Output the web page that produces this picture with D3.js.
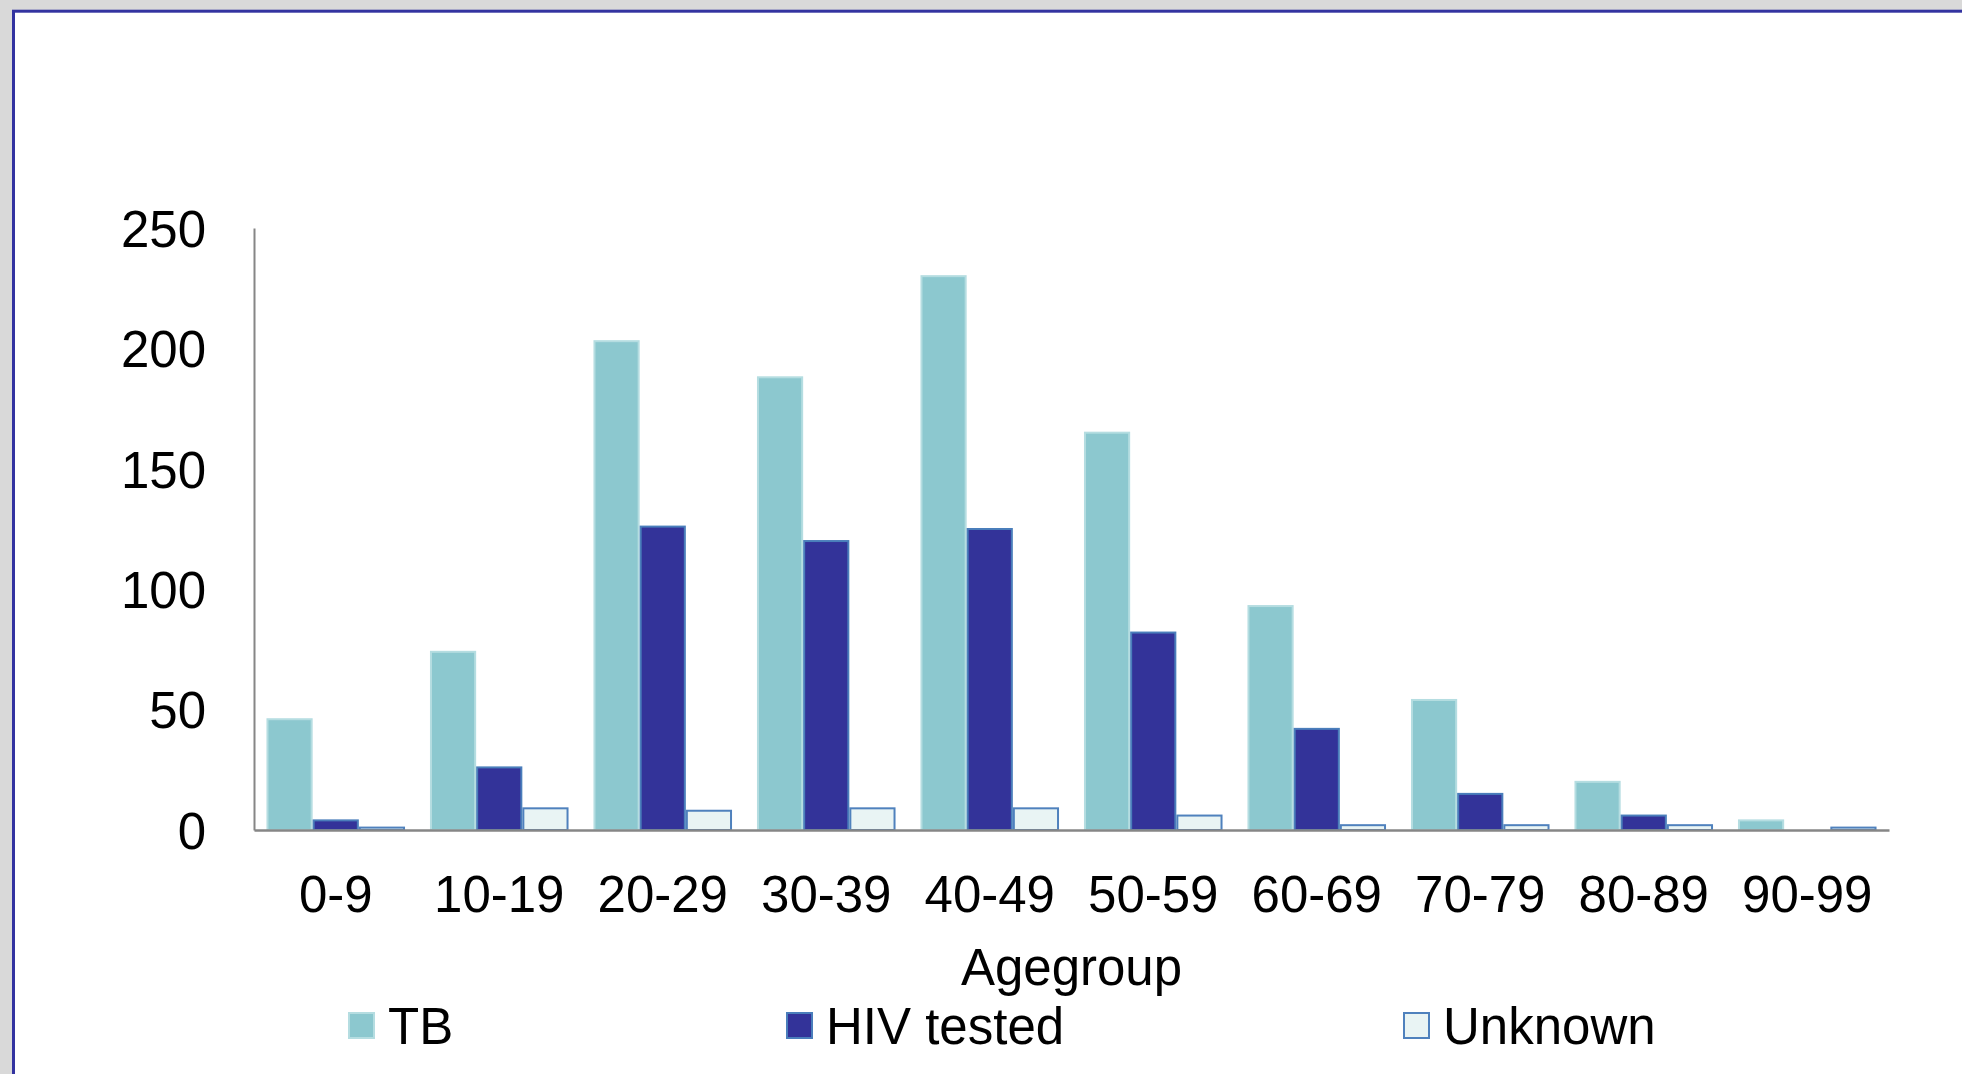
<!DOCTYPE html>
<html>
<head>
<meta charset="utf-8">
<script src="https://cdn.jsdelivr.net/npm/d3@7"></script>
<style>
  body { margin: 0; background: #d9d9d9; }
  svg { display: block; font-family: "Liberation Sans", Arial, sans-serif; }
</style>
</head>
<body>
<div id="chart"></div>
<script>
// dades llegides del grafic
const agegroups = ["0-9", "10-19", "20-29", "30-39", "40-49", "50-59", "60-69", "70-79", "80-89", "90-99"];
const tbValues = [46, 74, 203, 188, 230, 165, 93, 54, 20, 4];
const hivValues = [4, 26, 126, 120, 125, 82, 42, 15, 6, 0];
const unknownValues = [1, 9, 8, 9, 9, 6, 2, 2, 2, 1];
const seriesNames = ["TB", "HIV tested", "Unknown"];
const yTicks = [0, 50, 100, 150, 200, 250];

const colors = {
    "TB": {fill: "#8cc8cf", stroke: "#b5dde1"},
    "HIV tested": {fill: "#333399", stroke: "#4a7ebb"},
    "Unknown": {fill: "#e9f4f4", stroke: "#4f81bd"}
};

const data = agegroups.map((g, i) => ({
    group: g,
    values: [
        {key: "TB", value: tbValues[i]},
        {key: "HIV tested", value: hivValues[i]},
        {key: "Unknown", value: unknownValues[i]}
    ]
}));

const W = 1962, H = 1074;
const margin = {top: 228, left: 254, right: 73, bottom: 244};
const width = W - margin.left - margin.right;
const height = H - margin.top - margin.bottom;

const root = d3.select("#chart")
    .append("svg")
        .attr("width", W)
        .attr("height", H);

// fons gris i panell blanc amb vora blava
root.append("rect")
    .attr("width", W).attr("height", H)
    .attr("fill", "#d9d9d9");
root.append("rect")
    .attr("x", 13.5).attr("y", 11.2)
    .attr("width", W + 20).attr("height", H + 20)
    .attr("fill", "white")
    .attr("stroke", "#3333a0")
    .attr("stroke-width", 3);

const svg = root.append("g")
    .attr("transform", `translate(${margin.left}, ${margin.top})`);

// escales
const x0 = d3.scaleBand()
    .domain(agegroups)
    .range([0, width])
    .padding(0);

const x1 = d3.scaleBand()
    .domain(seriesNames)
    .range([0, x0.bandwidth()])
    .paddingInner(0)
    .paddingOuter(0.27);

const y = d3.scaleLinear()
    .domain([0, 250])
    .range([height, 0]);

// barres
const groups = svg.selectAll(".grup")
    .data(data)
    .enter()
    .append("g")
        .attr("class", "grup")
        .attr("transform", d => `translate(${x0(d.group)}, 0)`);

groups.selectAll("rect")
    .data(d => d.values.filter(v => v.value > 0))
    .enter()
    .append("rect")
        .attr("x", d => x1(d.key) + 1)
        .attr("y", d => y(d.value))
        .attr("width", x1.bandwidth() - 2)
        .attr("height", d => height - y(d.value))
        .attr("fill", d => colors[d.key].fill)
        .attr("stroke", d => colors[d.key].stroke)
        .attr("stroke-width", 2);

// eix Y
const yAxis = svg.append("g")
    .attr("class", "eix-y")
    .call(d3.axisLeft(y).tickValues(yTicks).tickSize(0).tickPadding(48));
yAxis.select(".domain").attr("stroke", "#868686").attr("stroke-width", 2);
yAxis.selectAll("text")
    .style("font-size", "51px")
    .style("fill", "#000")
    .attr("dy", "0.36em")
    .style("font-family", "'Liberation Sans', Arial, sans-serif");

// eix X
const xAxis = svg.append("g")
    .attr("class", "eix-x")
    .attr("transform", `translate(0, ${height})`)
    .call(d3.axisBottom(x0).tickSize(0).tickPadding(46));
xAxis.select(".domain").attr("stroke", "#868686").attr("stroke-width", 2.5);
xAxis.selectAll("text")
    .style("font-size", "51px")
    .style("fill", "#000")
    .attr("dy", "0.71em")
    .style("font-family", "'Liberation Sans', Arial, sans-serif");

// titol eix X
svg.append("text")
    .attr("x", width / 2)
    .attr("y", 985 - margin.top)
    .attr("text-anchor", "middle")
    .style("font-size", "51px")
    .text("Agegroup");

// llegenda
const legendX = [348, 786, 1403];
const legend = root.selectAll(".llegenda")
    .data(seriesNames)
    .enter()
    .append("g")
        .attr("class", "llegenda")
        .attr("transform", (d, i) => `translate(${legendX[i]}, 1012)`);

legend.append("rect")
    .attr("x", 1).attr("y", 1)
    .attr("width", 25).attr("height", 25)
    .attr("fill", d => colors[d].fill)
    .attr("stroke", d => colors[d].stroke)
    .attr("stroke-width", 2);

legend.append("text")
    .attr("x", 40)
    .attr("y", 32)
    .style("font-size", "51px")
    .text(d => d);
</script>
</body>
</html>
